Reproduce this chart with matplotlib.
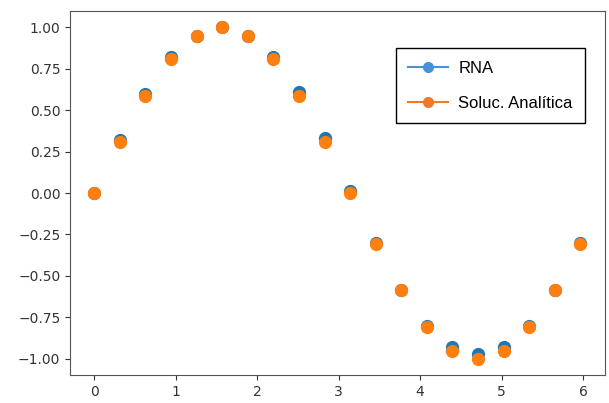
import matplotlib.pyplot as plt
from matplotlib.lines import Line2D

x = [0.0, 0.314, 0.628, 0.942, 1.257, 1.571, 1.885, 2.199, 2.513, 2.827,
     3.142, 3.456, 3.770, 4.084, 4.398, 4.712, 5.027, 5.341, 5.655, 5.969]
rna = [0.0, 0.32, 0.60, 0.82, 0.95, 1.0, 0.95, 0.82, 0.61, 0.335,
       0.015, -0.30, -0.585, -0.80, -0.93, -0.97, -0.93, -0.80, -0.585, -0.30]
analitica = [0.0, 0.309, 0.588, 0.809, 0.951, 1.0, 0.951, 0.809, 0.588, 0.309,
             0.0, -0.309, -0.588, -0.809, -0.951, -1.0, -0.951, -0.809, -0.588, -0.309]
labels = ["RNA", "Soluc. Analítica"]

fig = plt.figure(figsize=(6.09, 4.03), dpi=100)
ax = fig.add_axes([0.115, 0.069, 0.878, 0.904])

ax.plot(x, rna, "o", color="#1f77b4", markersize=8.5)
ax.plot(x, analitica, "o", color="#ff7f0e", markersize=8.5)

ax.set_yticks([1.0, 0.75, 0.5, 0.25, 0.0, -0.25, -0.5, -0.75, -1.0])
ax.tick_params(labelsize=10, colors="#333333")
for s in ax.spines.values():
    s.set_color("#555555")

handles = [Line2D([], [], color="#4a90d9", marker="o", markersize=7),
           Line2D([], [], color="#f07a2a", marker="o", markersize=7)]
leg = ax.legend(handles, labels, loc="upper left", bbox_to_anchor=(0.609, 0.898),
                borderaxespad=0, fancybox=False, framealpha=1, edgecolor="black",
                prop={"family": "Liberation Sans", "size": 12},
                borderpad=0.75, labelspacing=1.2, handlelength=2.4,
                handletextpad=0.6)
leg.get_frame().set_linewidth(1.0)

plt.savefig("out.png")
